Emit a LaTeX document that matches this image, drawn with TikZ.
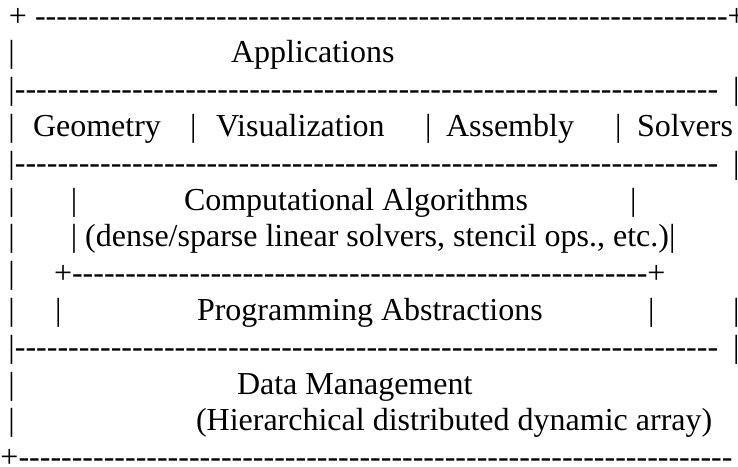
\documentclass[tikz,border=0pt]{standalone}
\usepackage{fontspec}
% plain hyphens must stay hyphens (no -- to en-dash)
\setmainfont{Liberation Serif}[Ligatures=TeXOff]
\ExplSyntaxOn
\cs_new:Npn \dashrun #1 { \prg_replicate:nn {#1} {-} }
\ExplSyntaxOff
\newcommand\rowfont{\fontsize{32pt}{36.8pt}\selectfont}
\begin{document}
\begin{tikzpicture}[x=1pt,y=-1pt,
  txt/.style={anchor=base west,inner sep=0pt,outer sep=0pt,font=\rowfont}]
\useasboundingbox (0,0) rectangle (738,466);
\fill[white] (0,0) rectangle (738,466);
% top border
\node[txt] (top) at (9,26) {+ \dashrun{65}+};
% Applications
\node[txt] (l2) at (8.5,62.8) {|};
\node[txt] (app) at (231,62.8) {Applications};
% separator
\node[txt] (s3) at (8.5,99.6) {|\dashrun{66}};
\node[txt] (r3) at (733,99.6) {|};
% application areas
\node[txt] (l4) at (8.5,136.4) {|};
\node[txt] (geo) at (33,136.4) {Geometry};
\node[txt] (b4a) at (190,136.4) {|};
\node[txt] (vis) at (216,136.4) {Visualization};
\node[txt] (b4b) at (425,136.4) {|};
\node[txt] (asm) at (446,136.4) {Assembly};
\node[txt] (b4c) at (615,136.4) {|};
\node[txt] (sol) at (637,136.4) {Solvers};
% separator
\node[txt] (s5) at (8.5,173.2) {|\dashrun{66}};
\node[txt] (r5) at (733,173.2) {|};
% computational algorithms
\node[txt] (l6) at (8.5,210) {|};
\node[txt] (b6a) at (70.8,210) {|};
\node[txt] (alg) at (184,210) {Computational Algorithms};
\node[txt] (b6b) at (630,210) {|};
\node[txt] (l7) at (8.5,246.8) {|};
\node[txt] (algd) at (70.8,246.8) {| (dense/sparse linear solvers, stencil ops., etc.)|};
% inner border
\node[txt] (l8) at (8.5,283.6) {|};
\node[txt] (inner) at (54,283.6) {+\dashrun{54}+};
% programming abstractions
\node[txt] (l9) at (8.5,320.4) {|};
\node[txt] (b9a) at (55.1,320.4) {|};
\node[txt] (prog) at (197,320.4) {Programming Abstractions};
\node[txt] (b9b) at (648,320.4) {|};
\node[txt] (r9) at (733,320.4) {|};
% separator
\node[txt] (s10) at (8.5,357.2) {|\dashrun{66}};
\node[txt] (r10) at (733,357.2) {|};
% data management
\node[txt] (l11) at (8.5,394) {|};
\node[txt] (dm) at (237,394) {Data Management};
\node[txt] (l12) at (8.5,430.8) {|};
\node[txt] (dmd) at (196,430.8) {(Hierarchical distributed dynamic array)};
% bottom border
\node[txt] (bot) at (0.5,467.6) {+\dashrun{67}};
\end{tikzpicture}
\end{document}
